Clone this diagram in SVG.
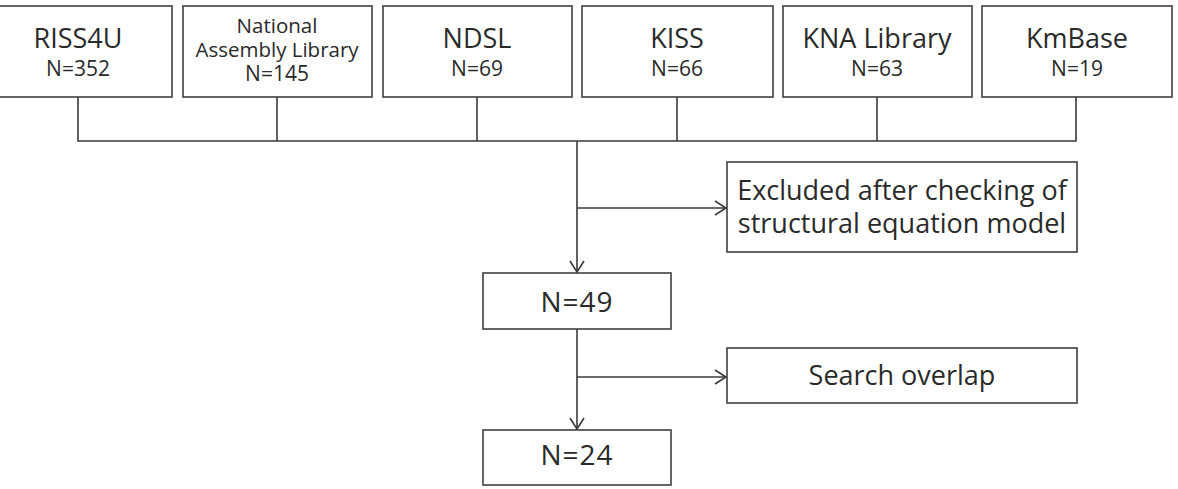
<svg xmlns="http://www.w3.org/2000/svg" width="1178" height="489" viewBox="0 0 1178 489">
<style>
.box{fill:#fff;stroke:#404040;stroke-width:1.6}
.t{font-family:"Open Sans","Noto Sans",sans-serif;fill:#2a2a2a;text-anchor:middle}
.big{font-size:27px}
.n{font-size:21px}
.sm{font-size:20.5px}
.mid{font-size:27px}
.nn{font-size:28px;letter-spacing:1px}
.ln{fill:none;stroke:#3a3a3a;stroke-width:1.6}
</style>
<defs>
<marker id="ah" markerWidth="20" markerHeight="20" refX="12" refY="8" orient="auto" markerUnits="userSpaceOnUse">
<path d="M1,1 L12,8 L1,15" fill="none" stroke="#3a3a3a" stroke-width="1.6"/>
</marker>
</defs>
<g id="connectors">
<path class="ln" d="M78,97 V141 H1076 V97 M277,97 V141 M477,97 V141 M677,97 V141 M877,97 V141"/>
<path class="ln" d="M577,141 V272" marker-end="url(#ah)"/>
<path class="ln" d="M577,208 H726" marker-end="url(#ah)"/>
<path class="ln" d="M577,329 V429" marker-end="url(#ah)"/>
<path class="ln" d="M577,377 H726" marker-end="url(#ah)"/>
</g>
<g id="riss4u"><rect class="box" x="-16" y="6" width="188" height="91"/><text class="t big" x="78" y="48">RISS4U</text><text class="t n" x="78" y="76">N=352</text></g>
<g id="nal"><rect class="box" x="183" y="6" width="189" height="91"/><text class="t sm" x="277" y="33">National</text><text class="t sm" x="277" y="57">Assembly Library</text><text class="t n" x="277" y="81">N=145</text></g>
<g id="ndsl"><rect class="box" x="383" y="6" width="189" height="91"/><text class="t big" x="477" y="48">NDSL</text><text class="t n" x="477" y="76">N=69</text></g>
<g id="kiss"><rect class="box" x="582" y="6" width="191" height="91"/><text class="t big" x="677" y="48">KISS</text><text class="t n" x="677" y="76">N=66</text></g>
<g id="kna"><rect class="box" x="783" y="6" width="189" height="91"/><text class="t big" x="877" y="48">KNA Library</text><text class="t n" x="877" y="76">N=63</text></g>
<g id="kmbase"><rect class="box" x="982" y="6" width="190" height="91"/><text class="t big" x="1077" y="48">KmBase</text><text class="t n" x="1077" y="76">N=19</text></g>
<g id="excluded"><rect class="box" x="727" y="162" width="350" height="90"/><text class="t mid" x="902" y="200">Excluded after checking of</text><text class="t mid" x="902" y="233">structural equation model</text></g>
<g id="n49"><rect class="box" x="483" y="273" width="188" height="56"/><text class="t nn" x="577" y="312">N=49</text></g>
<g id="search"><rect class="box" x="727" y="348" width="350" height="55"/><text class="t mid" x="902" y="385">Search overlap</text></g>
<g id="n24"><rect class="box" x="483" y="430" width="188" height="55"/><text class="t nn" x="577" y="465">N=24</text></g>
</svg>
